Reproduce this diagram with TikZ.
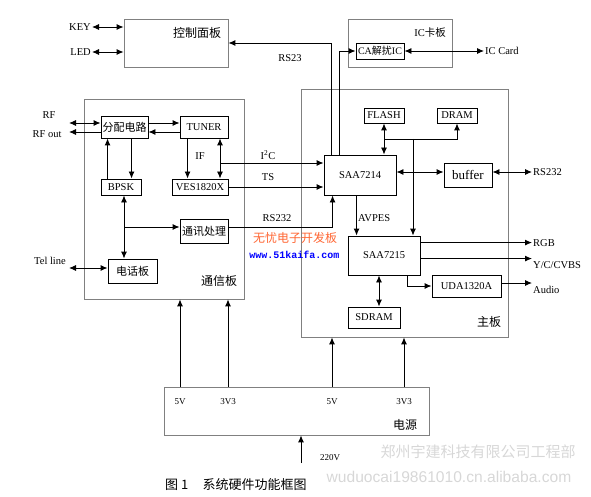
\documentclass[tikz,border=0pt]{standalone}
\usepackage{fontspec}
\setmainfont{Liberation Serif}
\setmonofont{Liberation Mono}
\newfontfamily\cjk{Noto Sans CJK SC}
\newfontfamily\wmfont{Liberation Sans}
\usetikzlibrary{arrows.meta,calc,positioning}
\definecolor{wmorange}{RGB}{255,102,51}
\definecolor{wmgray}{RGB}{215,215,215}

\begin{document}
\begin{tikzpicture}[x=1pt,y=-1pt,
    font=\fontsize{10.5}{12}\selectfont,
    blk/.style={draw, line width=0.9pt, inner sep=1pt},
    board/.style={draw=gray, line width=0.8pt},
    lbl/.style={inner sep=1pt},
    arr/.style={line width=0.9pt, -{Latex[length=7pt,width=6pt]}},
    dbl/.style={line width=0.9pt, {Latex[length=7pt,width=6pt]}-{Latex[length=7pt,width=6pt]}}
]
\useasboundingbox (0,0) rectangle (591,497);

% Control panel
\node[board, minimum width=104, minimum height=48] (ctrl) at (176,43) {};
\node[lbl, font=\cjk\fontsize{12}{14}\selectfont] (ctrltxt) at (197,33) {控制面板};
\node[lbl, anchor=east] (key) at (92,27) {KEY};
\node[lbl, anchor=east] (led) at (92,52) {LED};
\draw[dbl] (key.east) -- (key.east -| ctrl.west);
\draw[dbl] (led.east) -- (led.east -| ctrl.west);

% IC card board
\node[board, minimum width=104, minimum height=48] (icb) at (400,43) {};
\node[lbl] (icbtxt) at (430,33) {IC{\cjk 卡板}};
\node[blk, minimum width=48, minimum height=16, font=\fontsize{10}{12}\selectfont] (ca) at (380,51) {CA{\cjk 解扰}IC};
\node[lbl, anchor=west] (iccard) at (484,51) {IC Card};
\draw[dbl] (ca.east) -- (iccard.west);

% Main board
\node[board, minimum width=207, minimum height=248] (main) at (404.5,213) {};
\node[lbl, font=\cjk\fontsize{12}{14}\selectfont] (maintxt) at (489,322) {主板};
\node[blk, minimum width=40, minimum height=15] (flash) at (384,115.5) {FLASH};
\node[blk, minimum width=40, minimum height=15] (dram) at (457,115.5) {DRAM};
\node[blk, minimum width=72, minimum height=40] (saa14) at (360,175) {SAA7214};
\node[blk, minimum width=48, minimum height=24, font=\fontsize{13}{15}\selectfont] (buffer) at (468,175) {buffer};
\node[blk, minimum width=72, minimum height=39] (saa15) at (384,255.5) {SAA7215};
\node[blk, minimum width=69, minimum height=22] (uda) at (466.5,286) {UDA1320A};
\node[blk, minimum width=52, minimum height=21] (sdram) at (374,317.5) {SDRAM};
\node[lbl, anchor=west] (rs232r) at (532,172) {RS232};
\node[lbl, anchor=west] (rgb) at (532,243) {RGB};
\node[lbl, anchor=west] (ycvbs) at (532,265) {Y/C/CVBS};
\node[lbl, anchor=west] (audio) at (532,290) {Audio};
\node[lbl, anchor=west] (avpes) at (357,218) {AVPES};
\node[lbl] (rs23) at (290,58) {RS23};

\draw[arr] ($(saa14.north west)+(8,0)$) |- (ctrl.east);
\draw[arr] ($(saa14.north west)+(16,0)$) |- (ca.west);
\draw[dbl] (flash.south) -- (flash.south |- saa14.north);
\coordinate (bus) at (413,139);
\draw[arr] (flash.south |- bus) -| (dram.south);
\draw[arr] (bus) -- (bus |- saa15.north);
\draw[dbl] ($(saa14.east)+(0,-3)$) -- ($(buffer.west)+(0,-3)$);
\draw[dbl] ($(buffer.east)+(0,-3)$) -- (rs232r.west);
\draw[arr] ($(saa14.south west)+(33,0)$) coordinate (av) -- (av |- saa15.north);
\draw[arr] ($(saa15.north east)+(0,7)$) coordinate (rg) -- (rg -| rgb.west);
\draw[arr] ($(saa15.north east)+(0,23)$) coordinate (yc) -- (yc -| ycvbs.west);
\draw[arr] ($(saa15.south west)+(60,0)$) |- (uda.west);
\draw[arr] ($(uda.east)+(0,-3)$) coordinate (au) -- (au -| audio.west);
\draw[dbl] ($(sdram.north)+(5,0)$) coordinate (sd) -- (sd |- saa15.south);

% Communication board
\node[board, minimum width=160, minimum height=200] (comm) at (164,199) {};
\node[lbl, font=\cjk\fontsize{12}{14}\selectfont] (commtxt) at (219,281) {通信板};
\node[blk, minimum width=47, minimum height=22, font=\cjk\fontsize{11}{13}\selectfont] (split) at (124.5,127) {分配电路};
\node[blk, minimum width=48, minimum height=22] (tuner) at (204,127) {TUNER};
\node[blk, minimum width=40, minimum height=16] (bpsk) at (121,187) {BPSK};
\node[blk, minimum width=56, minimum height=16] (ves) at (200,187) {VES1820X};
\node[blk, minimum width=48, minimum height=24, font=\cjk\fontsize{11}{13}\selectfont] (comproc) at (204,231) {通讯处理};
\node[blk, minimum width=49, minimum height=24, font=\cjk\fontsize{11}{13}\selectfont] (phone) at (132.5,271) {电话板};
\node[lbl] (rf) at (49,115) {RF};
\node[lbl] (rfout) at (47,134) {RF out};
\node[lbl] (telline) at (50,261) {Tel line};
\node[lbl] (iflbl) at (200,156) {IF};
\node[lbl] (i2c) at (268,155) {I\textsuperscript{2}C};
\node[lbl] (ts) at (268,177) {TS};
\node[lbl] (rs232l) at (277,218) {RS232};

\coordinate (rfin) at (69,123);
\draw[dbl] (rfin) -- (rfin -| split.west);
\coordinate (rfo) at (69,132);
\draw[arr] (rfo -| split.west) -- (rfo);
\draw[arr] ($(split.east)+(0,-4)$) -- ($(tuner.west)+(0,-4)$);
\draw[arr] ($(tuner.west)+(0,5)$) -- ($(split.east)+(0,5)$);
\draw[arr] ($(split.south west)+(31,0)$) coordinate (dn) -- (dn |- bpsk.north);
\draw[arr] ($(bpsk.north west)+(7,0)$) coordinate (up) -- (up |- split.south);
\draw[arr] ($(tuner.south west)+(8,0)$) coordinate (ifl) -- (ifl |- ves.north);
\coordinate (i2cj) at (220,163);
\draw[dbl] (i2cj |- tuner.south) -- (i2cj |- ves.north);
\draw[arr] (i2cj) -- (i2cj -| saa14.west);
\draw[arr] (ves.east) -- (ves.east -| saa14.west);
\coordinate (tap) at (124,227);
\draw[dbl] (tap |- bpsk.south) -- (tap |- phone.north);
\draw[arr] (tap) -- (tap -| comproc.west);
\draw[arr] (tap -| comproc.east) -| ($(saa14.south west)+(9,0)$);
\coordinate (tel) at (69,268);
\draw[dbl] (tel) -- (tel -| phone.west);

% Power supply
\node[board, minimum width=265, minimum height=48] (power) at (296.5,411) {};
\begin{scope}[every node/.style={lbl, font=\fontsize{9}{10}\selectfont}]
\node (pa) at (180,402) {5V};
\node (pb) at (228,402) {3V3};
\node (pc) at (332,402) {5V};
\node (pd) at (404,402) {3V3};
\end{scope}
\node[lbl, font=\cjk\fontsize{12}{14}\selectfont] (powtxt) at (405,425) {电源};
\foreach \p in {pa,pb} \draw[arr] (\p |- power.north) -- (\p |- comm.south);
\foreach \p in {pc,pd} \draw[arr] (\p |- power.north) -- (\p |- main.south);
\coordinate (mains) at (301,463);
\draw[arr] (mains) -- (mains |- power.south);
\node[lbl, font=\fontsize{9}{10}\selectfont] (v220) at (330,458) {220V};

% Caption
\node[lbl, anchor=west, font=\cjk\fontsize{13}{15}\selectfont] (cap) at (164,485) {图 1\hspace{1.1em}系统硬件功能框图};

% Watermarks
\node[lbl, text=wmorange, font=\cjk\fontsize{12}{14}\selectfont] (wm1) at (295,238) {无忧电子开发板};
\node[lbl, text=blue, font=\ttfamily\bfseries\fontsize{10}{12}\selectfont] (wm2) at (294.5,255) {www.51kaifa.com};
\node[lbl, text=wmgray, font=\cjk\fontsize{15}{17}\selectfont] (wm3) at (478,452) {郑州宇建科技有限公司工程部};
\node[lbl, text=wmgray, font=\wmfont\fontsize{15.6}{17}\selectfont] (wm4) at (449,477) {wuduocai19861010.cn.alibaba.com};
\end{tikzpicture}
\end{document}
